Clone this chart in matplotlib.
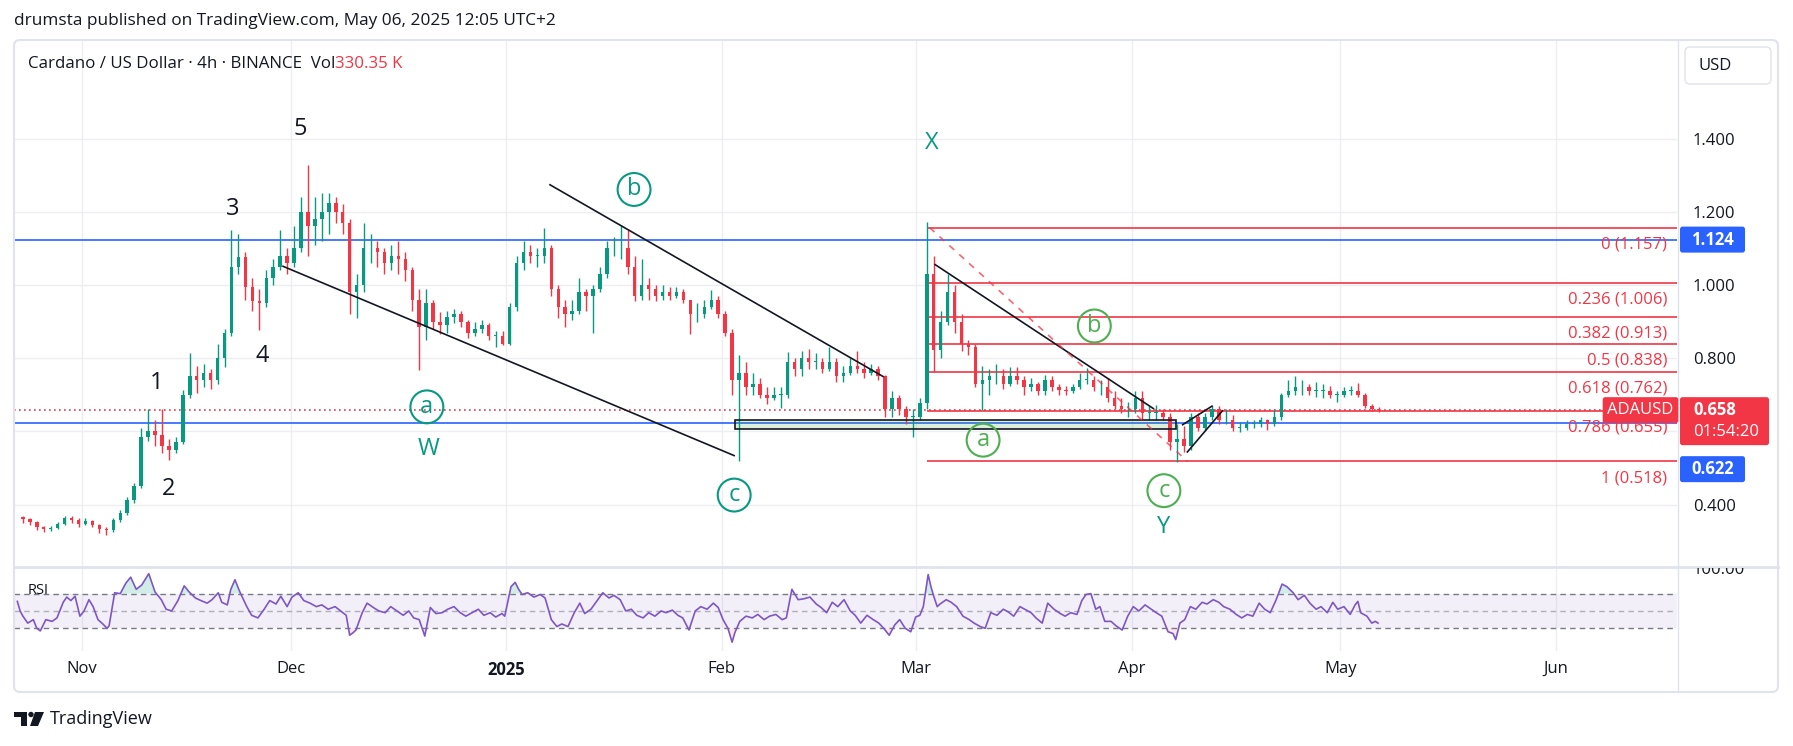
import datetime as dt
import numpy as np
import matplotlib
matplotlib.use("Agg")
import matplotlib.pyplot as plt
import matplotlib.dates as mdates
import matplotlib.transforms as mtransforms
from matplotlib.patches import FancyBboxPatch, Rectangle, Polygon, Circle
from matplotlib.lines import Line2D

plt.rcParams['font.family'] = ['Open Sans', 'DejaVu Sans']

# ---------------- data ----------------
candle_start = "2024-10-23"   # first daily candle
first_open = 0.365
closes = [
    0.360, 0.352, 0.338, 0.332, 0.336, 0.346, 0.364, 0.358, 0.348,
    # Nov
    0.355, 0.345, 0.332, 0.330, 0.358, 0.378, 0.412, 0.450, 0.585, 0.600,
    0.590, 0.560, 0.550, 0.570, 0.700, 0.750, 0.740, 0.760, 0.740, 0.800,
    0.868, 1.050, 1.077, 0.995, 0.955, 0.950, 1.020, 1.050, 1.080, 1.060,
    # Dec
    1.100, 1.200, 1.160, 1.180, 1.200, 1.225, 1.200, 1.170, 0.980, 1.000,
    1.100, 1.100, 1.090, 1.060, 1.080, 1.070, 1.040, 0.960, 0.886, 0.950,
    0.900, 0.890, 0.913, 0.920, 0.900, 0.868, 0.880, 0.890, 0.860, 0.860, 0.840,
    # Jan
    0.940, 1.060, 1.090, 1.080, 1.080, 1.100, 0.990, 0.940, 0.920, 0.930,
    0.980, 0.970, 0.990, 1.030, 1.100, 1.100, 1.100, 1.050, 0.970, 1.000,
    0.990, 0.970, 0.980, 0.970, 0.980, 0.960, 0.920, 0.920, 0.940, 0.960, 0.920,
    # Feb
    0.870, 0.740, 0.760, 0.720, 0.730, 0.700, 0.690, 0.700, 0.700, 0.790,
    0.770, 0.800, 0.790, 0.790, 0.770, 0.790, 0.750, 0.760, 0.780, 0.770,
    0.760, 0.770, 0.750, 0.660, 0.690, 0.660, 0.640, 0.640,
    # Mar
    0.677, 1.030, 0.822, 0.900, 0.980, 0.900, 0.840, 0.830, 0.730, 0.740,
    0.750, 0.750, 0.730, 0.750, 0.740, 0.720, 0.730, 0.710, 0.740, 0.720,
    0.713, 0.710, 0.720, 0.740, 0.740, 0.720, 0.720, 0.690, 0.670, 0.660, 0.660,
    # Apr
    0.690, 0.650, 0.650, 0.650, 0.640, 0.570, 0.580, 0.560, 0.640, 0.610,
    0.640, 0.660, 0.630, 0.630, 0.610, 0.610, 0.620, 0.620, 0.630, 0.620,
    0.640, 0.700, 0.710, 0.720, 0.720, 0.710, 0.710, 0.710, 0.700, 0.700,
    # May
    0.710, 0.710, 0.700, 0.670, 0.662, 0.658,
]
highs = [
    0.368, 0.364, 0.355, 0.342, 0.342, 0.352, 0.370, 0.368, 0.362,
    0.362, 0.358, 0.348, 0.338, 0.362, 0.385, 0.420, 0.458, 0.610, 0.662,
    0.630, 0.660, 0.580, 0.585, 0.712, 0.813, 0.780, 0.785, 0.770, 0.840,
    0.880, 1.150, 1.140, 1.090, 1.020, 0.990, 1.040, 1.070, 1.150, 1.100,
    1.160, 1.240, 1.328, 1.240, 1.250, 1.250, 1.240, 1.220, 1.180, 1.030,
    1.170, 1.140, 1.120, 1.100, 1.110, 1.120, 1.090, 1.050, 0.990, 0.990,
    0.960, 0.925, 0.930, 0.935, 0.930, 0.905, 0.900, 0.905, 0.895, 0.875, 0.875,
    0.950, 1.080, 1.120, 1.110, 1.100, 1.155, 1.110, 1.000, 0.960, 0.960,
    1.020, 0.990, 1.000, 1.050, 1.120, 1.130, 1.164, 1.150, 1.080, 1.070,
    1.020, 1.000, 1.000, 0.995, 0.995, 0.990, 0.960, 0.950, 0.960, 0.985, 0.970,
    0.930, 0.880, 0.810, 0.790, 0.760, 0.745, 0.720, 0.720, 0.720, 0.817,
    0.800, 0.820, 0.825, 0.815, 0.800, 0.830, 0.800, 0.780, 0.800, 0.820,
    0.790, 0.785, 0.780, 0.755, 0.710, 0.700, 0.670, 0.660,
    0.690, 1.173, 1.080, 0.930, 1.030, 1.000, 0.920, 0.850, 0.840, 0.780,
    0.770, 0.785, 0.770, 0.775, 0.775, 0.750, 0.745, 0.735, 0.755, 0.750,
    0.730, 0.725, 0.730, 0.760, 0.772, 0.750, 0.740, 0.745, 0.710, 0.690, 0.680,
    0.710, 0.710, 0.670, 0.672, 0.660, 0.650, 0.620, 0.615, 0.650, 0.650,
    0.650, 0.672, 0.670, 0.660, 0.645, 0.625, 0.630, 0.632, 0.640, 0.635,
    0.660, 0.705, 0.740, 0.750, 0.740, 0.730, 0.735, 0.730, 0.725, 0.710,
    0.720, 0.725, 0.733, 0.705, 0.675, 0.668,
]
lows = [
    0.350, 0.345, 0.330, 0.325, 0.328, 0.333, 0.344, 0.350, 0.340,
    0.343, 0.338, 0.322, 0.318, 0.326, 0.352, 0.372, 0.405, 0.445, 0.575,
    0.560, 0.540, 0.522, 0.540, 0.565, 0.690, 0.705, 0.720, 0.715, 0.730,
    0.775, 0.860, 1.030, 0.960, 0.930, 0.877, 0.940, 1.000, 1.040, 1.030,
    1.050, 1.090, 1.080, 1.110, 1.120, 1.140, 1.170, 1.140, 0.920, 0.910,
    0.980, 1.060, 1.050, 1.030, 1.040, 1.030, 1.010, 0.930, 0.768, 0.850,
    0.880, 0.865, 0.870, 0.895, 0.885, 0.855, 0.860, 0.870, 0.850, 0.831, 0.835,
    0.835, 0.930, 1.040, 1.060, 1.050, 1.060, 0.970, 0.910, 0.886, 0.905,
    0.920, 0.930, 0.870, 0.980, 1.020, 1.080, 1.070, 1.030, 0.955, 0.960,
    0.960, 0.955, 0.960, 0.960, 0.965, 0.950, 0.865, 0.900, 0.910, 0.935, 0.910,
    0.860, 0.700, 0.520, 0.700, 0.700, 0.690, 0.675, 0.685, 0.665, 0.690,
    0.750, 0.750, 0.770, 0.770, 0.760, 0.765, 0.735, 0.735, 0.755, 0.760,
    0.745, 0.755, 0.740, 0.640, 0.640, 0.645, 0.620, 0.585,
    0.630, 0.660, 0.763, 0.800, 0.890, 0.870, 0.820, 0.810, 0.720, 0.658,
    0.700, 0.730, 0.715, 0.725, 0.730, 0.700, 0.710, 0.700, 0.700, 0.710,
    0.700, 0.700, 0.705, 0.715, 0.730, 0.710, 0.700, 0.680, 0.660, 0.650, 0.640,
    0.650, 0.635, 0.630, 0.630, 0.632, 0.550, 0.517, 0.545, 0.550, 0.600,
    0.605, 0.630, 0.620, 0.620, 0.600, 0.598, 0.605, 0.610, 0.612, 0.605,
    0.615, 0.630, 0.695, 0.700, 0.700, 0.700, 0.695, 0.690, 0.690, 0.680,
    0.695, 0.700, 0.695, 0.665, 0.655, 0.652,
]

rsi_ref = "2024-11-01"   # RSI sample times are days after this date
rsi_points = [
    (-9.3, 61), (-8.9, 50), (-8.5, 44), (-7.8, 36), (-7.0, 40), (-6.5, 30), (-6.0, 27),
    (-5.2, 40), (-4.3, 38), (-3.6, 42), (-2.7, 60), (-2.2, 66), (-1.6, 62), (-1.0, 67),
    (-0.3, 44), (0.3, 50), (1.0, 63), (1.6, 55), (2.3, 40), (3.0, 35), (3.6, 30), (3.9, 33),
    (4.7, 71), (5.5, 70), (6.3, 82), (7.0, 89), (7.8, 75), (8.6, 80), (9.6, 93), (10.5, 72),
    (11.4, 63), (12.1, 52), (12.9, 50), (13.8, 62), (14.7, 79), (15.4, 72), (16.3, 65),
    (17.1, 62), (18.0, 59), (18.7, 63), (19.6, 71), (20.1, 60), (20.9, 57), (21.4, 75),
    (22.0, 86), (22.7, 72), (23.7, 55), (24.4, 45), (25.3, 42), (26.2, 52), (27.0, 62),
    (27.9, 58), (28.6, 67), (29.5, 55), (30.2, 66), (31.1, 71), (31.9, 62), (32.8, 59),
    (33.7, 55), (34.5, 57), (35.4, 52), (36.4, 55), (37.2, 50), (38.0, 45), (38.5, 22),
    (39.0, 25), (39.4, 28), (40.3, 48), (41.0, 59), (41.9, 54), (42.7, 50), (43.6, 48),
    (44.4, 55), (45.3, 50), (46.2, 45), (47.0, 50), (47.7, 42), (48.5, 40), (49.3, 21),
    (50.1, 54), (50.9, 47), (51.8, 48), (52.6, 52), (53.5, 55), (54.4, 48), (55.2, 44),
    (56.1, 48), (57.0, 52), (57.8, 45), (58.7, 48), (59.5, 43), (60.4, 47), (60.8, 44),
    (61.7, 78), (62.3, 83), (62.8, 75), (63.3, 69), (64.1, 71), (65.0, 66), (65.9, 69),
    (66.6, 65), (67.5, 40), (68.3, 32), (69.0, 35), (69.9, 32), (70.8, 48), (71.6, 59),
    (72.3, 47), (73.2, 52), (74.1, 62), (74.9, 71), (75.8, 65), (76.5, 68), (77.4, 63),
    (78.2, 50), (79.0, 52), (79.8, 45), (80.7, 42), (81.5, 48), (82.4, 44), (83.3, 50),
    (84.0, 48), (84.9, 51), (85.7, 45), (86.4, 42), (87.3, 28), (88.2, 50), (89.0, 55),
    (89.9, 52), (90.8, 59), (91.5, 54), (92.2, 40), (92.9, 30), (93.5, 14), (93.9, 25),
    (94.6, 38), (95.5, 44), (96.4, 42), (97.2, 46), (98.1, 40), (98.9, 44), (99.8, 46),
    (100.7, 40), (101.3, 42), (102.1, 75), (103.0, 63), (103.8, 64), (104.7, 66),
    (105.6, 58), (106.3, 54), (107.1, 48), (107.9, 60), (108.7, 55), (109.6, 63),
    (110.5, 50), (111.2, 45), (112.0, 36), (112.9, 45), (113.8, 40), (114.6, 36),
    (115.3, 30), (116.1, 22), (116.9, 34), (117.6, 40),
    (118.4, 30), (119.2, 26), (119.9, 43), (120.5, 45), (121.0, 55), (121.7, 92),
    (122.1, 78), (122.5, 67), (123.0, 55), (123.4, 58), (124.3, 63), (125.0, 60),
    (125.8, 55), (126.7, 44), (127.6, 40), (128.3, 36), (129.2, 32), (129.9, 30),
    (130.7, 48), (131.6, 45), (132.5, 52), (133.2, 49), (134.0, 44), (134.9, 55),
    (135.6, 52), (136.5, 48), (137.2, 42), (138.1, 36), (138.9, 59), (139.8, 52),
    (140.7, 47), (141.4, 44), (142.2, 48), (143.1, 46), (143.8, 62), (144.4, 69),
    (145.1, 70), (145.8, 52), (146.4, 55), (147.1, 38), (148.0, 38), (148.7, 33),
    (149.6, 28), (150.4, 44), (151.2, 55), (152.0, 50), (152.9, 57), (153.6, 53),
    (154.5, 48), (155.3, 44), (156.2, 26), (156.9, 24), (157.3, 17), (157.9, 36),
    (158.6, 40), (159.4, 55), (160.2, 52), (161.1, 60), (161.8, 58), (162.7, 63),
    (163.5, 60), (164.2, 55), (165.1, 52), (166.0, 46), (166.8, 42), (167.6, 46),
    (168.4, 44), (169.3, 59), (170.1, 52), (170.9, 48), (171.7, 62), (172.6, 81),
    (173.3, 78), (174.2, 71), (174.9, 63), (175.8, 68), (176.6, 59), (177.5, 52),
    (178.2, 55), (179.1, 48), (179.9, 60), (180.6, 52), (181.5, 55), (182.4, 46),
    (183.1, 57), (183.5, 61), (183.9, 48), (184.8, 44), (185.5, 36), (186.0, 38),
    (186.4, 36),
]

month_ticks = ["2024-11-01", "2024-12-01", "2025-01-01", "2025-02-01",
               "2025-03-01", "2025-04-01", "2025-05-01", "2025-06-01"]
month_labels = ["Nov", "Dec", "2025", "Feb", "Mar", "Apr", "May", "Jun"]
price_ticks = [0.4, 0.6, 0.8, 1.0, 1.2, 1.4]
price_tick_labels = ["0.400", "", "0.800", "1.000", "1.200", "1.400"]

blue_levels = [1.124, 0.622]
last_price = 0.658
fib_ratios = ["0", "0.236", "0.382", "0.5", "0.618", "0.786", "1"]
fib_levels = [1.157, 1.006, 0.913, 0.838, 0.762, 0.655, 0.518]

# ---------------- styling ----------------
W, H = 1793, 746
UP, DN = '#089981', '#f23645'
BLUE = '#2962ff'
TXT = '#131722'
GRID = '#eceef2'
BORDER = '#e0e3eb'
TEAL = '#089981'
GREEN = '#4caf50'
RSIC = '#7e57c2'
ID = mtransforms.IdentityTransform()

fig = plt.figure(figsize=(W / 100, H / 100), dpi=100)
fig.patch.set_facecolor('white')

def fx(x):
    return x / W

def fy(y):
    return 1 - y / H

L, R = 14, 1677
ax = fig.add_axes([fx(L), fy(566), (R - L) / W, (566 - 40) / H])
rax = fig.add_axes([fx(L), fy(651), (R - L) / W, (651 - 567) / H], sharex=ax)

base = mdates.date2num(dt.datetime(2024, 11, 1))
def D(d):
    return base + d

xl = (D(-9.78), D(229.4))
ax.set_xlim(*xl)
ax.set_ylim(0.2322, 1.6694)
rax.set_ylim(3.83, 100.7)

for a in (ax, rax):
    a.set_facecolor('white')
    for s in a.spines.values():
        s.set_visible(False)

# ticks / grid
tick_nums = [mdates.date2num(dt.datetime.fromisoformat(t)) for t in month_ticks]
rax.set_xticks(tick_nums)
rax.set_xticklabels(month_labels)
ax.tick_params(axis='x', labelbottom=False, length=0)
rax.tick_params(axis='x', length=0, pad=7, labelsize=12, labelcolor=TXT)
for lab in rax.get_xticklabels():
    if lab.get_text() == '2025':
        lab.set_fontweight('bold')

ax.yaxis.tick_right()
ax.set_yticks(price_ticks)
ax.set_yticklabels(price_tick_labels)
ax.tick_params(axis='y', length=0, pad=11.5, labelsize=12, labelcolor=TXT)
rax.set_yticks([])

ax.grid(True, color=GRID, lw=1)
ax.set_axisbelow(True)
rax.grid(True, axis='x', color=GRID, lw=1)
rax.set_axisbelow(True)

# ---------------- price pane ----------------
n = len(closes)
cstart = mdates.date2num(dt.datetime.fromisoformat(candle_start))
cx = cstart + np.arange(n) + 0.5
c = np.array(closes)
o = np.array([first_open] + closes[:-1])
h = np.array(highs)
lo = np.array(lows)
cols = np.where(c >= o, UP, DN)

# horizontal levels
for lv in blue_levels:
    ax.axhline(lv, color=BLUE, lw=1.2, zorder=2)
ax.axhline(last_price, color=DN, lw=1.2, ls=(0, (1, 2)), zorder=2)

fib_start = D(121.6)
ax.hlines(fib_levels, fib_start, xl[1], color=DN, lw=1.2, zorder=2)
for r, lv in zip(fib_ratios, fib_levels):
    ax.annotate(f"{r} ({lv:.3f})", xy=(0.994, lv), xycoords=('axes fraction', 'data'),
                xytext=(0, -12), textcoords='offset points', ha='right', va='center',
                color=DN, fontsize=12, zorder=6)

# highlighted zone rectangle
ax.add_patch(Rectangle((D(93.9), 0.606), 63.4, 0.025, fc=GREEN, alpha=0.2, ec='none', zorder=2.5))
ax.add_patch(Rectangle((D(93.9), 0.606), 63.4, 0.025, fc='none', ec=TXT, lw=1.2, zorder=4))

# candles
ax.vlines(cx, lo, h, colors=cols, lw=1, zorder=3)
body_lo = np.minimum(o, c)
body_h = np.maximum(np.abs(c - o), 0.002)
ax.bar(cx, body_h, bottom=body_lo, width=0.5, color=cols, lw=0, zorder=3)

# trend lines
trend_lines = [
    ((28.8, 1.052), (93.9, 0.533)),
    ((67.2, 1.275), (115.3, 0.749)),
    ((122.6, 1.057), (154.2, 0.661)),
    ((158.2, 0.617), (162.6, 0.670)),
    ((158.9, 0.542), (164.1, 0.658)),
]
for (d0, p0), (d1, p1) in trend_lines:
    ax.plot([D(d0), D(d1)], [p0, p1], color=TXT, lw=1.2, zorder=4, solid_capstyle='butt')
ax.plot([D(121.9), D(159.0)], [1.157, 0.518], color=DN, lw=1.2, ls=(0, (4, 4)), alpha=0.75, zorder=4)

# wave labels
for s, d, p in [("5", 31.35, 1.426), ("3", 21.7, 1.208), ("1", 10.8, 0.733),
                ("4", 25.9, 0.806), ("2", 12.5, 0.443)]:
    ax.text(D(d), p, s, ha='center', va='center', fontsize=17, color=TXT, zorder=6)
for s, d, p in [("W", 49.9, 0.552), ("X", 122.2, 1.388), ("Y", 155.6, 0.338)]:
    ax.text(D(d), p, s, ha='center', va='center', fontsize=17, color=TEAL, zorder=6)
for s, d, p, col in [("a", 49.6, 0.667, TEAL), ("b", 79.4, 1.261, TEAL), ("c", 93.8, 0.426, TEAL),
                     ("a", 129.6, 0.576, GREEN), ("b", 145.6, 0.888, GREEN), ("c", 155.6, 0.438, GREEN)]:
    ax.scatter([D(d)], [p], s=560, facecolors='none', edgecolors=col, linewidths=1.5, zorder=6)
    ax.text(D(d), p, s, ha='center', va='center', fontsize=17, color=col, zorder=6)

# ---------------- RSI pane ----------------
rbase = mdates.date2num(dt.datetime.fromisoformat(rsi_ref))
rx = rbase + np.array([p[0] for p in rsi_points])
ry = np.array([p[1] for p in rsi_points], dtype=float)
rax.axhspan(30, 70, color=RSIC, alpha=0.09, lw=0, zorder=1)
for lv, al in [(70, 1.0), (50, 0.55), (30, 1.0)]:
    rax.axhline(lv, color='#787b86', lw=1, ls=(0, (4, 3)), alpha=al, zorder=2)
rax.fill_between(rx, 70, ry, where=ry > 70, interpolate=True, color=UP, alpha=0.18, lw=0, zorder=2)
rax.fill_between(rx, 30, ry, where=ry < 30, interpolate=True, color=DN, alpha=0.12, lw=0, zorder=2)
rax.plot(rx, ry, color=RSIC, lw=1.2, zorder=3)

# ---------------- chrome / overlays ----------------
def P(x, y):
    return (x, H - y)

def pbox(x0, y0, x1, y1, fc, ec='none', r=2.5, lw=1, z=10):
    p = FancyBboxPatch(P(x0, y1), x1 - x0, y1 - y0,
                       boxstyle=f"round,pad=0,rounding_size={r}",
                       fc=fc, ec=ec, lw=lw, transform=ID, zorder=z)
    fig.add_artist(p)

def pline(x0, y0, x1, y1, col=BORDER, lw=1, z=9):
    fig.add_artist(Line2D([x0, x1], [H - y0, H - y1], color=col, lw=lw, transform=ID, zorder=z))

# outer frame and separators
pbox(L, 40, 1778, 692, 'none', ec=BORDER, r=6, lw=1.5, z=9)
pline(L, 566.5, 1778, 566.5, lw=2)
pline(1677.5, 40, 1677.5, 692, lw=1)

# price label boxes positioned from data
def ypix(a, v):
    return H - a.transData.transform((0, v))[1]

y124 = ypix(ax, blue_levels[0])
pbox(1680, y124 - 13, 1745, y124 + 13, BLUE)
fig.text(fx(1712.5), fy(y124), f"{blue_levels[0]:.3f}", color='white', fontsize=12,
         fontweight='bold', ha='center', va='center', zorder=11)

ylast = ypix(ax, last_price)
pbox(1680, ylast - 13, 1769, ylast + 35, DN)
fig.text(fx(1693), fy(ylast), f"{last_price:.3f}", color='white', fontsize=12,
         fontweight='bold', ha='left', va='center', zorder=11)
fig.text(fx(1693), fy(ylast + 21.5), "01:54:20", color='white', fontsize=12,
         ha='left', va='center', zorder=11)
pbox(1602.7, ylast - 13, 1678.3, ylast + 13, DN)
fig.text(fx(1640.5), fy(ylast), "ADAUSD", color='white', fontsize=12,
         ha='center', va='center', zorder=11)

y622 = ylast + 35 + 11 + 13  # stacked below the last-price label
pbox(1680, y622 - 13, 1745, y622 + 13, BLUE)
fig.text(fx(1712.5), fy(y622), f"{blue_levels[1]:.3f}", color='white', fontsize=12,
         fontweight='bold', ha='center', va='center', zorder=11)

# USD box
pbox(1685, 47, 1771, 84, 'white', ec=BORDER, r=5, lw=1)
fig.text(fx(1715), fy(65.5), "USD", color=TXT, fontsize=12, ha='center', va='center', zorder=11)

# RSI 100 label (clipped at the pane top like the reference)
y100 = ypix(rax, 100)
t100 = fig.text(fx(1693), fy(y100 + 2), "100.00", color=TXT, fontsize=12, ha='left', va='center', zorder=11)
t100.set_clip_box(mtransforms.Bbox([[1680, 0], [1780, H - 567.5]]))
t100.set_clip_on(True)

fig.text(fx(27.5), fy(590), "RSI", color=TXT, fontsize=10.5, ha='left', va='center')

# header texts
fig.text(fx(14), fy(21), "drumsta published on TradingView.com, May 06, 2025 12:05 UTC+2",
         color=TXT, fontsize=12.4, ha='left', va='center')
t1 = fig.text(fx(27.5), fy(63.5), "Cardano / US Dollar · 4h · BINANCE  Vol", color=TXT,
              fontsize=12.2, ha='left', va='center', zorder=11)
renderer = fig.canvas.get_renderer()
bb = t1.get_window_extent(renderer=renderer)
fig.text(bb.x1 / W, fy(63.5), "330.35 K", color=DN, fontsize=12.2, ha='left', va='center', zorder=11)

# TradingView logo
fig.add_artist(Polygon([P(14, 712), P(27, 712), P(27, 726), P(21, 726), P(21, 717), P(14, 717)],
                       closed=True, fc=TXT, ec='none', transform=ID))
fig.add_artist(Circle(P(31, 714.5), 2.7, fc=TXT, ec='none', transform=ID))
fig.add_artist(Polygon([P(35, 712), P(44, 712), P(38, 726), P(30, 726)],
                       closed=True, fc=TXT, ec='none', transform=ID))
fig.text(fx(50), fy(719), "TradingView", color=TXT, fontsize=13, ha='left', va='center')

fig.savefig("out.png", dpi=100, facecolor='white')
